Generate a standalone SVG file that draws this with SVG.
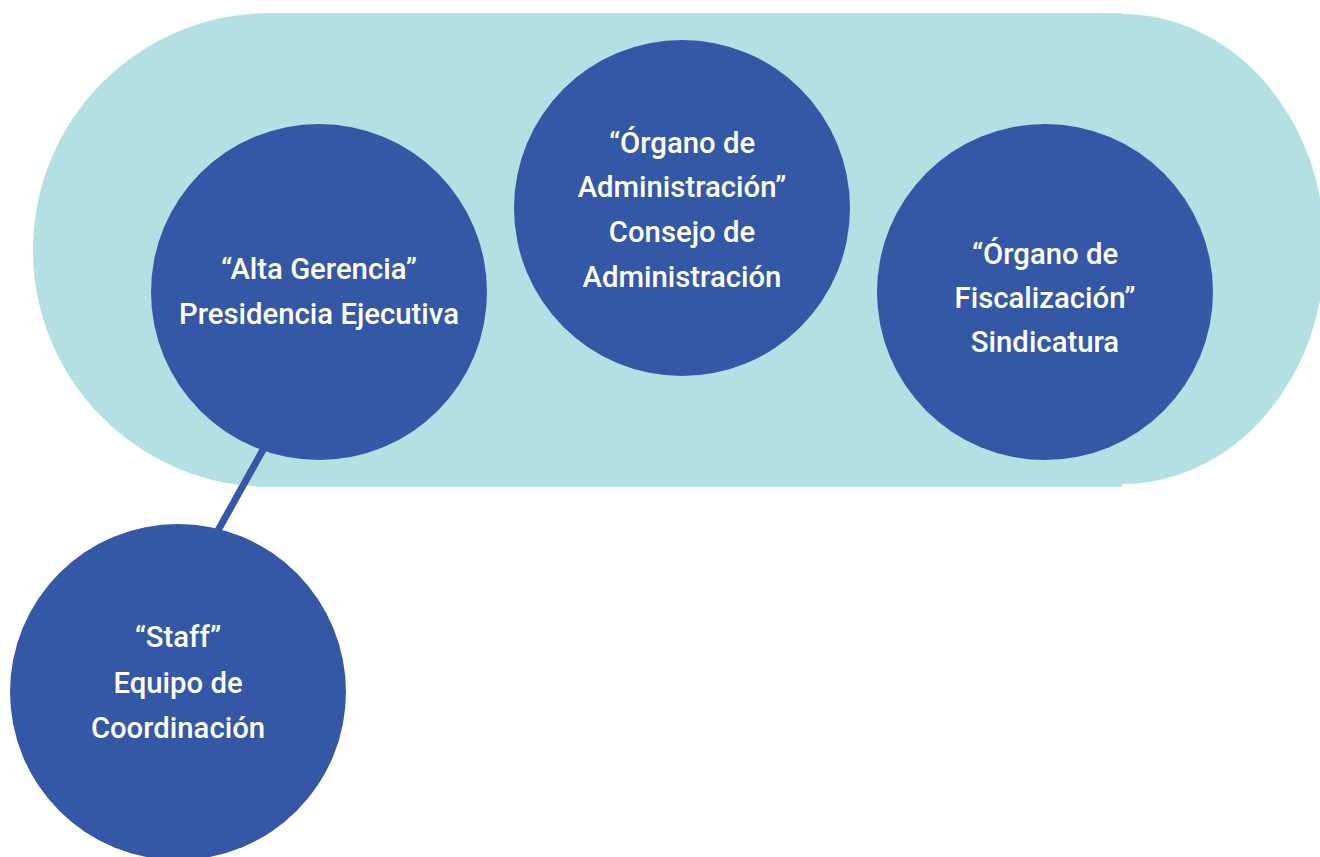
<svg xmlns="http://www.w3.org/2000/svg" width="1320" height="857" viewBox="0 0 1320 857">
<style>
.bg{fill:#B3E0E3}
.node{fill:#3558A6}
.lbl{font-family:Roboto,"Liberation Sans",sans-serif;font-size:29.3px;font-weight:500;fill:#FFFFFF;text-anchor:middle}
.conn{stroke:#3558A6;stroke-width:7;fill:none}
</style>
<rect width="1320" height="857" fill="#FFFFFF"/>
<g id="background">
<circle class="bg" cx="270" cy="250" r="237"/>
<rect class="bg" x="270" y="13" width="852" height="474"/>
<ellipse class="bg" cx="1122" cy="249" rx="203" ry="235"/>
</g>
<g id="connectors">
<line class="conn" x1="264" y1="448" x2="216" y2="534"/>
</g>
<g id="alta-gerencia">
<circle class="node" cx="319" cy="292" r="168"/>
<text class="lbl" x="319" y="279">“Alta Gerencia”</text>
<text class="lbl" x="319" y="324">Presidencia Ejecutiva</text>
</g>
<g id="organo-administracion">
<circle class="node" cx="682" cy="208" r="168"/>
<text class="lbl" x="682" y="153">“Órgano de</text>
<text class="lbl" x="682" y="197">Administración”</text>
<text class="lbl" x="682" y="242">Consejo de</text>
<text class="lbl" x="682" y="287">Administración</text>
</g>
<g id="organo-fiscalizacion">
<circle class="node" cx="1045" cy="292" r="168"/>
<text class="lbl" x="1045" y="264">“Órgano de</text>
<text class="lbl" x="1045" y="308">Fiscalización”</text>
<text class="lbl" x="1045" y="352">Sindicatura</text>
</g>
<g id="staff">
<circle class="node" cx="178" cy="692" r="168"/>
<text class="lbl" x="178" y="647">“Staff”</text>
<text class="lbl" x="178" y="693">Equipo de</text>
<text class="lbl" x="178" y="738">Coordinación</text>
</g>
</svg>
